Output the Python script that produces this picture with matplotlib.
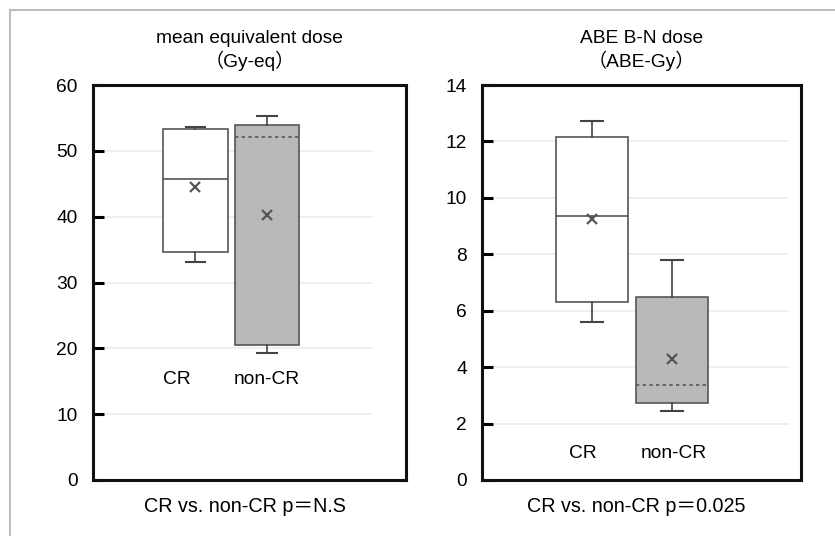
import matplotlib.pyplot as plt
from matplotlib.lines import Line2D

plt.rcParams['font.family'] = ['Liberation Sans', 'Noto Sans CJK JP']

# box summaries
groups = ['CR', 'non-CR']

eq_q1 = [34.6, 20.5]
eq_med = [45.7, 52.1]
eq_q3 = [53.3, 53.9]
eq_lo = [33.1, 19.3]
eq_hi = [53.6, 55.3]
eq_mean = [44.5, 40.3]

abe_q1 = [6.3, 2.72]
abe_med = [9.35, 3.35]
abe_q3 = [12.15, 6.48]
abe_lo = [5.6, 2.45]
abe_hi = [12.72, 7.8]
abe_mean = [9.25, 4.3]

eq_ticks = [0, 10, 20, 30, 40, 50, 60]
abe_ticks = [0, 2, 4, 6, 8, 10, 12, 14]

fills = ['white', '#b9b9b9']
med_styles = ['-', (0, (2, 2))]


def make_stats(q1, med, q3, lo, hi, mean):
    return [dict(q1=q1[i], med=med[i], q3=q3[i], whislo=lo[i], whishi=hi[i],
                 mean=mean[i], fliers=[], label=groups[i]) for i in range(len(groups))]


def draw_panel(ax, stats, ticks, xlim, label_y, label_dx, grid_span):
    for t in ticks[1:-1]:
        ax.axhline(t, xmin=grid_span[0], xmax=grid_span[1], color='#ececec', lw=1.2, zorder=0)
    bp = ax.bxp(stats, positions=[1, 2], widths=0.9, showmeans=True, patch_artist=True,
                showfliers=False, capwidths=0.27,
                boxprops=dict(edgecolor='#555555', linewidth=1.2),
                whiskerprops=dict(color='#444444', linewidth=1.2),
                capprops=dict(color='#444444', linewidth=1.5),
                meanprops=dict(marker='x', markeredgecolor='#555555', markersize=6.5,
                               markeredgewidth=1.6))
    for i, box in enumerate(bp['boxes']):
        box.set_facecolor(fills[i])
    for i, m in enumerate(bp['medians']):
        m.set_color('#555555')
        m.set_linestyle(med_styles[i])
        m.set_linewidth(1.2)
    for i, name in enumerate(groups):
        ax.text(i + 1 + label_dx[i], label_y, name, ha='center', va='center', fontsize=13.8)
    ax.set_xlim(*xlim)
    ax.set_ylim(ticks[0], ticks[-1])
    ax.set_yticks(ticks)
    ax.set_xticks([])
    ax.tick_params(axis='y', direction='in', length=8, width=2.2, pad=11, labelsize=13.8)
    for s in ax.spines.values():
        s.set_linewidth(2.2)
        s.set_color('#111111')


fig = plt.figure(figsize=(8.35, 5.36), dpi=100)

ax1 = fig.add_axes([93 / 835, 56 / 536, 313 / 835, 395 / 536])
ax2 = fig.add_axes([482 / 835, 56 / 536, 319 / 835, 395 / 536])

draw_panel(ax1, make_stats(eq_q1, eq_med, eq_q3, eq_lo, eq_hi, eq_mean), eq_ticks,
           (-0.43, 3.94), 15.2, [-0.26, 0.0], (0.04, 0.89))
draw_panel(ax2, make_stats(abe_q1, abe_med, abe_q3, abe_lo, abe_hi, abe_mean), abe_ticks,
           (-0.37, 3.61), 0.95, [-0.11, 0.02], (0.04, 0.96))

ax1.set_title('mean equivalent dose\n（Gy-eq）', fontsize=13.8, pad=13, linespacing=1.2)
ax2.set_title('ABE B-N dose\n（ABE-Gy）', fontsize=13.8, pad=13, linespacing=1.2)

fig.text(245 / 835, 1 - 507 / 536, 'CR vs. non-CR p＝N.S', ha='center', va='center', fontsize=14.2)
fig.text(636 / 835, 1 - 507 / 536, 'CR vs. non-CR p＝0.025', ha='center', va='center', fontsize=14.2)

# thin grey frame around the figure (left and top only visible)
fig.add_artist(Line2D([10 / 835, 10 / 835], [0, 1 - 10 / 536], transform=fig.transFigure,
                      color='#bdbdbd', lw=1.5))
fig.add_artist(Line2D([10 / 835, 1], [1 - 10 / 536, 1 - 10 / 536], transform=fig.transFigure,
                      color='#bdbdbd', lw=1.5))

plt.savefig('out.png', dpi=100)
plt.close()
